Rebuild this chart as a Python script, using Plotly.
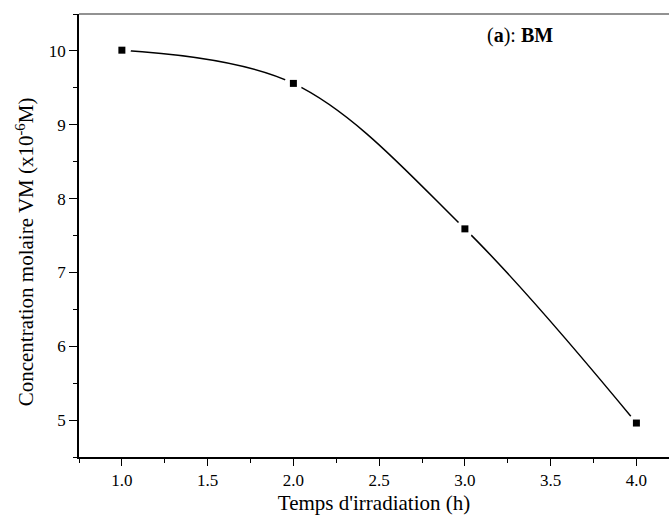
import plotly.graph_objects as go

# Irradiation time (h) and molar concentration of VM (x10^-6 M)
temps_h = [1.0, 2.0, 3.0, 4.0]
concentration = [10.01, 9.56, 7.59, 4.96]

x_tickvals = [1.0, 1.5, 2.0, 2.5, 3.0, 3.5, 4.0]
y_tickvals = [5, 6, 7, 8, 9, 10]

SERIF = "Liberation Serif, Times New Roman, serif"

fig = go.Figure()

# smooth curve through the measurements
fig.add_trace(go.Scatter(
    x=temps_h, y=concentration, mode="lines",
    line=dict(shape="spline", smoothing=1.0, color="black", width=1.5),
    hoverinfo="skip", showlegend=False,
))
# white halo that opens a small gap in the curve around each point
fig.add_trace(go.Scatter(
    x=temps_h, y=concentration, mode="markers",
    marker=dict(symbol="circle", size=18, color="white", line=dict(width=0)),
    hoverinfo="skip", showlegend=False,
))
# measured points
fig.add_trace(go.Scatter(
    x=temps_h, y=concentration, mode="markers",
    marker=dict(symbol="square", size=7, color="black", line=dict(width=0)),
    showlegend=False,
))

fig.update_layout(
    width=669, height=524,
    margin=dict(l=79, r=0, t=14, b=67),
    paper_bgcolor="white", plot_bgcolor="white",
    font=dict(family=SERIF, color="black", size=17),
    xaxis=dict(
        range=[0.75, 4.19], tickvals=x_tickvals, tickformat=".1f",
        showgrid=False, zeroline=False,
        showline=True, linecolor="black", linewidth=1.5,
        ticks="outside", ticklen=7, tickwidth=1.3, tickcolor="black",
        minor=dict(tick0=0.75, dtick=0.25, ticks="outside", ticklen=4,
                   tickwidth=1.3, tickcolor="black", showgrid=False),
        tickfont=dict(size=17),
        title=dict(text="Temps d'irradiation (h)", font=dict(size=21), standoff=6),
    ),
    yaxis=dict(
        range=[4.5, 10.5], tickvals=y_tickvals,
        showgrid=False, zeroline=False,
        showline=True, linecolor="black", linewidth=1.5,
        ticks="outside", ticklen=8, tickwidth=1.3, tickcolor="black",
        minor=dict(tick0=4.5, dtick=0.5, ticks="outside", ticklen=4,
                   tickwidth=1.3, tickcolor="black", showgrid=False),
        tickfont=dict(size=17),
    ),
    shapes=[dict(type="line", xref="paper", yref="paper",
                 x0=0, x1=1, y0=1, y1=1,
                 line=dict(color="#6e6e6e", width=1.5))],
    annotations=[
        dict(
            x=3.32, y=10.21, xref="x", yref="y",
            text="(<b>a</b>): <b>BM</b>", showarrow=False,
            font=dict(family=SERIF, size=20, color="black"),
        ),
        # y-axis title
        dict(
            x=-0.0915, y=0.462, xref="paper", yref="paper",
            xanchor="center", yanchor="middle", textangle=-90,
            text="Concentration molaire VM (x10<sup>-6</sup>M)", showarrow=False,
            font=dict(family=SERIF, size=21, color="black"),
        ),
    ],
)

fig.write_html("out.html")
